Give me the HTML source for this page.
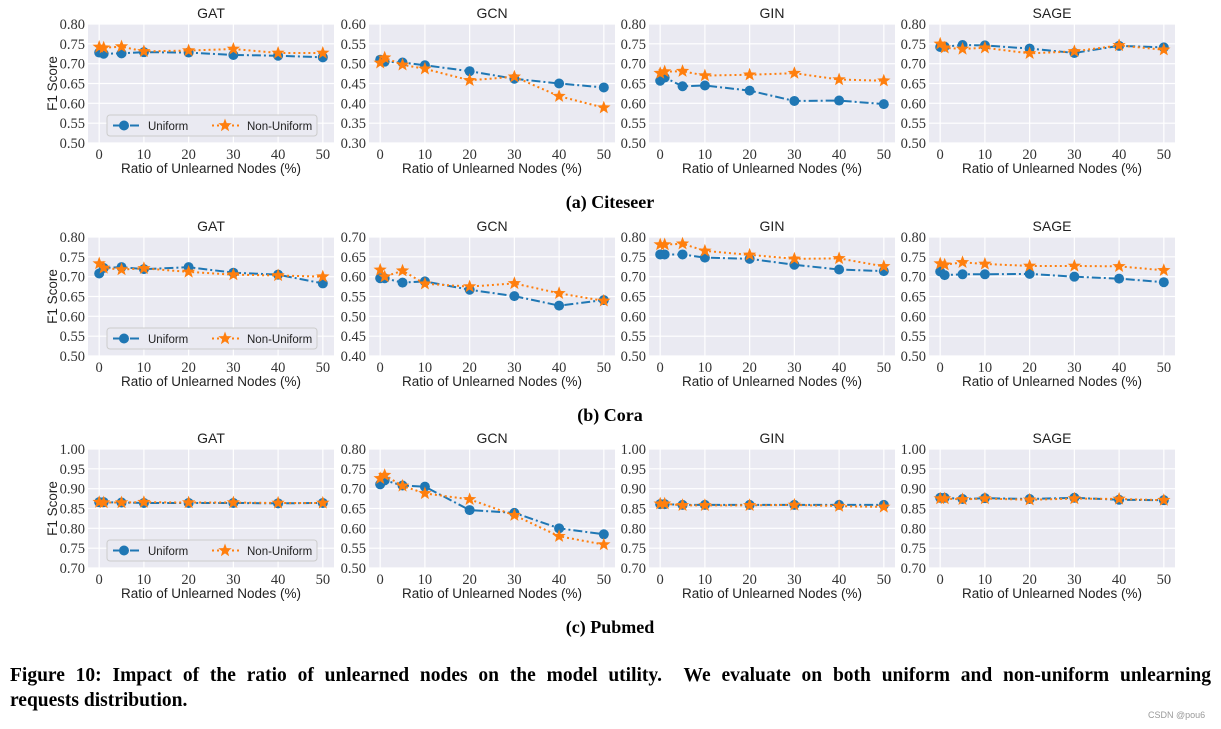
<!DOCTYPE html>
<html><head><meta charset="utf-8">
<style>
body{margin:0;background:#fff;width:1221px;height:729px;overflow:hidden;position:relative;font-family:"Liberation Serif",serif;}
svg{position:absolute;left:0;top:0}
.cap{position:absolute;left:10px;width:1201px;font-weight:bold;font-size:19.5px;color:#000;font-family:"Liberation Serif",serif}
</style></head>
<body>
<svg id="fig" width="1221" height="729"></svg>
<div class="cap" style="top:665px;text-align:justify;text-align-last:justify">Figure 10: Impact of the ratio of unlearned nodes on the model utility. &nbsp;We evaluate on both uniform and non-uniform unlearning</div>
<div class="cap" style="top:690px">requests distribution.</div>
<div style="position:absolute;left:1148px;top:710px;font-size:9px;color:#999;font-family:'Liberation Sans',sans-serif">CSDN @pou6</div>
<script>
const xs = [0,1,5,10,20,30,40,50];
const xTicks = [0,10,20,30,40,50];
const models = ["GAT","GCN","GIN","SAGE"];
const datasets = ["(a) Citeseer","(b) Cora","(c) Pubmed"];
const yMins = [[0.50,0.30,0.50,0.50],[0.50,0.40,0.50,0.50],[0.70,0.50,0.70,0.70]];
// Citeseer
const citeGATu=[.728,.725,.726,.729,.728,.722,.720,.716];
const citeGATn=[.742,.740,.743,.731,.733,.737,.727,.727];
const citeGCNu=[.510,.505,.503,.496,.481,.462,.450,.440];
const citeGCNn=[.502,.515,.497,.487,.458,.467,.418,.389];
const citeGINu=[.657,.665,.643,.645,.632,.606,.607,.598];
const citeGINn=[.676,.680,.681,.670,.672,.676,.660,.657];
const citeSAGEu=[.742,.743,.747,.746,.738,.727,.745,.741];
const citeSAGEn=[.750,.740,.737,.740,.726,.731,.746,.735];
// Cora
const coraGATu=[.708,.722,.724,.719,.724,.710,.705,.683];
const coraGATn=[.733,.722,.718,.721,.712,.705,.703,.700];
const coraGCNu=[.596,.596,.585,.588,.567,.551,.527,.541];
const coraGCNn=[.617,.600,.615,.582,.575,.583,.558,.539];
const coraGINu=[.756,.756,.756,.748,.745,.730,.718,.714];
const coraGINn=[.781,.781,.783,.765,.755,.745,.746,.726];
const coraSAGEu=[.713,.704,.706,.706,.707,.700,.695,.686];
const coraSAGEn=[.733,.730,.736,.732,.727,.727,.726,.716];
// Pubmed
const pubGATu=[.866,.866,.865,.864,.864,.864,.863,.864];
const pubGATn=[.866,.865,.865,.866,.865,.865,.864,.864];
const pubGCNu=[.711,.721,.708,.705,.646,.639,.600,.585];
const pubGCNn=[.726,.734,.707,.688,.673,.633,.580,.559];
const pubGINu=[.861,.861,.859,.859,.859,.859,.859,.859];
const pubGINn=[.862,.862,.858,.858,.858,.859,.856,.854];
const pubSAGEu=[.877,.877,.874,.876,.874,.877,.872,.871];
const pubSAGEn=[.875,.875,.873,.875,.872,.875,.874,.871];

const uni=[[citeGATu,citeGCNu,citeGINu,citeSAGEu],[coraGATu,coraGCNu,coraGINu,coraSAGEu],[pubGATu,pubGCNu,pubGINu,pubSAGEu]];
const non=[[citeGATn,citeGCNn,citeGINn,citeSAGEn],[coraGATn,coraGCNn,coraGINn,coraSAGEn],[pubGATn,pubGCNn,pubGINn,pubSAGEn]];

const NS="http://www.w3.org/2000/svg";
const svg=document.getElementById('fig');
function el(tag,attrs,parent,text){const e=document.createElementNS(NS,tag);for(const k in attrs)e.setAttribute(k,attrs[k]);if(text!==undefined)e.textContent=text;(parent||svg).appendChild(e);return e;}
const lefts=[88,369,649,929], W=246, H=119;
const tops=[24,237,449];
const BLUE="#1f77b4", ORANGE="#ff7f0e";
function starPts(cx,cy,R){let p=[];for(let i=0;i<10;i++){const r=i%2?R*0.42:R;const a=-Math.PI/2+i*Math.PI/5;p.push((cx+r*Math.cos(a)).toFixed(1)+","+(cy+r*Math.sin(a)).toFixed(1));}return p.join(" ");}

for(let r=0;r<3;r++){
  for(let c=0;c<4;c++){
    const L=lefts[c],T=tops[r],ymin=yMins[r][c],ymax=ymin+0.30;
    const sx=v=>L+(v+2.5)/55*W;
    const sy=v=>T+(ymax-v)/(ymax-ymin)*H;
    const g=el('g',{});
    
    
    const bg=el('rect',{x:L,y:T,width:W,height:H,fill:'#eaeaf2'},g);
    
    
    for(let k=0;k<=6;k++){
      const v=ymin+k*0.05,y=sy(v);
      el('line',{x1:L,x2:L+W,y1:y,y2:y,stroke:'#fff','stroke-width':1.2},g);
      const t=el('text',{x:L-3,y:y+5,'text-anchor':'end','font-size':14.5,fill:'#333','font-family':'Liberation Serif, serif'},g,v.toFixed(2));
      
      
    }
    xTicks.forEach(v=>{
      const x=sx(v);
      el('line',{x1:x,x2:x,y1:T,y2:T+H,stroke:'#fff','stroke-width':1.2},g);
      const t=el('text',{x:x,y:T+H+16,'text-anchor':'middle','font-size':14.5,fill:'#333','font-family':'Liberation Serif, serif'},g,String(v));
      
      
    });
    const ti=el('text',{x:L+W/2,y:T-6,'text-anchor':'middle','font-size':14,fill:'#222','font-family':'Liberation Sans, sans-serif'},g,models[c]);
    
    
    const xl=el('text',{x:L+W/2,y:T+H+30,'text-anchor':'middle','font-size':13.5,fill:'#222','font-family':'Liberation Sans, sans-serif'},g,'Ratio of Unlearned Nodes (%)');
    
    
    if(c===0){
      const yl=el('text',{x:0,y:0,transform:`translate(57,${T+H/2}) rotate(-90)`,'text-anchor':'middle','font-size':13.5,fill:'#222','font-family':'Liberation Sans, sans-serif'},g,'F1 Score');
      
      
    }
    const u=uni[r][c],n=non[r][c];
    const lu=el('polyline',{points:xs.map((x,i)=>sx(x)+','+sy(u[i])).join(' '),fill:'none',stroke:BLUE,'stroke-width':2,'stroke-dasharray':'9,3,2,3'},g);
    
    
    xs.forEach((x,i)=>{
      const m=el('circle',{cx:sx(x),cy:sy(u[i]),r:5,fill:BLUE},g);
      
      
    });
    const ln=el('polyline',{points:xs.map((x,i)=>sx(x)+','+sy(n[i])).join(' '),fill:'none',stroke:ORANGE,'stroke-width':2,'stroke-dasharray':'2,3'},g);
    
    
    xs.forEach((x,i)=>{
      const m=el('polygon',{points:starPts(sx(x),sy(n[i]),7),fill:ORANGE},g);
      
      
    });
    if(c===0){
      const lg=el('g',{},g);
      
      
      const ly=T+91;
      el('rect',{x:107,y:ly,width:210,height:21,rx:3,fill:'#eaeaf2',stroke:'#ccc','stroke-width':1},lg);
      el('line',{x1:113,x2:140,y1:ly+10.5,y2:ly+10.5,stroke:BLUE,'stroke-width':2,'stroke-dasharray':'9,3,2,3'},lg);
      el('circle',{cx:124,cy:ly+10.5,r:5,fill:BLUE},lg);
      const t1=el('text',{x:148,y:ly+15,'font-size':11.5,fill:'#222','font-family':'Liberation Sans, sans-serif'},lg,'Uniform');
      
      
      el('line',{x1:212,x2:240,y1:ly+10.5,y2:ly+10.5,stroke:ORANGE,'stroke-width':2,'stroke-dasharray':'2,3'},lg);
      el('polygon',{points:starPts(225,ly+10.5,7),fill:ORANGE},lg);
      const t2=el('text',{x:247,y:ly+15,'font-size':11.5,fill:'#222','font-family':'Liberation Sans, sans-serif'},lg,'Non-Uniform');
      
      
    }
  }
  const sc=el('text',{x:610,y:tops[r]+184,'text-anchor':'middle','font-size':18,'font-weight':'bold',fill:'#000','font-family':'Liberation Serif, serif'},svg,datasets[r]);
  
  
}
</script>
</body></html>
